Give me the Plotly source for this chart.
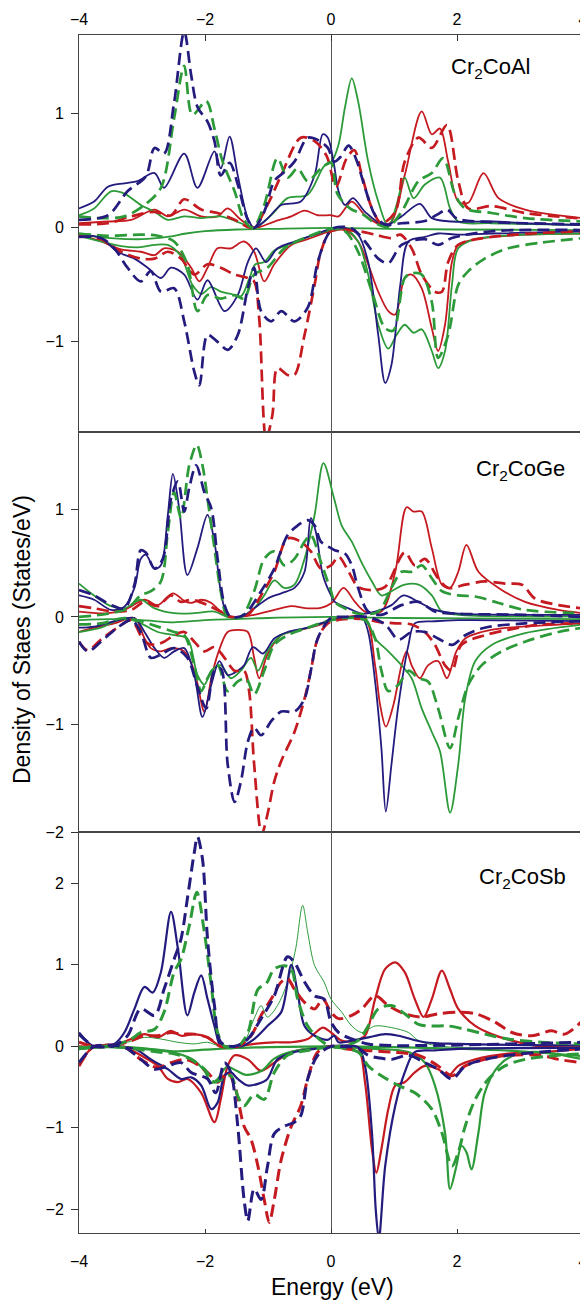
import plotly.graph_objects as go

RED = "#c41a20"
GREEN = "#2c9a38"
NAVY = "#231b7d"

X_TICKS = [-4, -2, 0, 2, 4]

# ---------------- Cr2CoAl ----------------
AL_NAVY_DASH_UP = [(-4.0,0.07),(-3.54,0.11),(-3.23,0.32),(-2.94,0.45),(-2.80,0.70),(-2.65,0.65),(-2.49,1.10),(-2.33,1.72),(-2.22,1.34),(-2.12,1.06),(-1.96,0.93),(-1.85,0.76),(-1.75,0.46),(-1.61,0.57),(-1.48,0.38),(-1.32,0.07),(-1.22,0.0),(-1.06,0.14),(-0.90,0.41),(-0.74,0.49),(-0.58,0.58),(-0.37,0.79),(-0.21,0.77),(-0.05,0.70),(0.05,0.58),(0.15,0.62),(0.28,0.72),(0.40,0.60),(0.54,0.35),(0.70,0.11),(0.86,0.03),(1.12,0.04),(1.49,0.06),(1.70,0.12),(1.84,0.16),(2.0,0.08),(2.55,0.05),(3.08,0.04),(4.0,0.03)]
AL_NAVY_SOLID_UP = [(-4.0,0.17),(-3.76,0.23),(-3.54,0.36),(-3.28,0.39),(-3.07,0.41),(-2.80,0.48),(-2.65,0.35),(-2.33,0.65),(-2.12,0.35),(-1.85,0.67),(-1.75,0.52),(-1.61,0.80),(-1.48,0.46),(-1.32,0.08),(-1.22,0.0),(-1.01,0.08),(-0.79,0.20),(-0.48,0.23),(-0.26,0.46),(-0.13,0.82),(-0.05,0.79),(0.04,0.58),(0.12,0.32),(0.22,0.20),(0.35,0.26),(0.54,0.14),(0.86,0.02),(1.12,0.10),(1.41,0.21),(1.60,0.085),(1.92,0.055),(2.55,0.055),(3.08,0.04),(4.0,0.025)]
AL_GREEN_DASH_UP = [(-4.0,0.10),(-3.65,0.085),(-3.28,0.10),(-2.96,0.20),(-2.70,0.35),(-2.49,0.96),(-2.33,1.42),(-2.20,0.99),(-1.98,1.11),(-1.85,0.87),(-1.72,0.58),(-1.53,0.32),(-1.38,0.07),(-1.24,0.0),(-1.06,0.20),(-0.85,0.61),(-0.69,0.44),(-0.53,0.52),(-0.37,0.41),(-0.16,0.52),(0.0,0.57),(0.10,0.30),(0.30,0.17),(0.50,0.12),(0.70,0.04),(0.91,0.01),(1.12,0.14),(1.39,0.41),(1.60,0.48),(1.78,0.61),(1.97,0.29),(2.13,0.17),(2.55,0.13),(3.08,0.085),(4.0,0.055)]
AL_GREEN_SOLID_UP = [(-4.0,0.11),(-3.76,0.17),(-3.49,0.32),(-3.28,0.30),(-3.02,0.20),(-2.80,0.14),(-2.59,0.07),(-2.33,0.10),(-2.06,0.085),(-1.75,0.10),(-1.43,0.04),(-1.22,0.0),(-0.95,0.11),(-0.69,0.26),(-0.37,0.29),(-0.11,0.54),(0.01,0.58),(0.12,0.73),(0.22,1.05),(0.33,1.31),(0.43,1.11),(0.59,0.58),(0.75,0.23),(0.91,0.01),(1.04,0.20),(1.17,0.44),(1.31,0.26),(1.49,0.38),(1.73,0.44),(1.89,0.17),(2.02,0.055),(2.55,0.04),(4.0,0.025)]
AL_RED_DASH_UP = [(-4.0,0.03),(-3.54,0.04),(-3.17,0.10),(-2.80,0.14),(-2.54,0.11),(-2.33,0.25),(-2.06,0.16),(-1.80,0.13),(-1.53,0.07),(-1.24,0.0),(-1.01,0.20),(-0.79,0.46),(-0.48,0.79),(-0.26,0.76),(-0.07,0.63),(0.08,0.36),(0.24,0.60),(0.37,0.68),(0.49,0.46),(0.65,0.17),(0.80,0.04),(1.02,0.14),(1.17,0.58),(1.39,0.79),(1.60,0.70),(1.84,0.90),(2.02,0.41),(2.18,0.17),(2.55,0.19),(3.08,0.13),(4.0,0.08)]
AL_RED_SOLID_UP = [(-4.0,0.04),(-3.54,0.055),(-3.17,0.07),(-2.80,0.16),(-2.59,0.10),(-2.33,0.16),(-2.06,0.10),(-1.80,0.10),(-1.64,0.17),(-1.43,0.07),(-1.22,0.0),(-0.90,0.055),(-0.63,0.10),(-0.42,0.15),(-0.21,0.11),(0.0,0.11),(0.12,0.10),(0.33,0.23),(0.54,0.11),(0.80,0.025),(0.96,0.055),(1.17,0.46),(1.44,1.02),(1.60,0.82),(1.73,0.87),(1.86,0.58),(2.02,0.23),(2.18,0.22),(2.42,0.48),(2.66,0.26),(3.08,0.16),(4.0,0.085)]
AL_NAVY_DASH_DN = [(-4.0,-0.08),(-3.65,-0.09),(-3.44,-0.18),(-3.23,-0.35),(-3.02,-0.47),(-2.86,-0.38),(-2.70,-0.56),(-2.49,-0.53),(-2.33,-0.82),(-2.17,-1.26),(-2.09,-1.38),(-1.96,-0.94),(-1.80,-1.00),(-1.64,-1.07),(-1.48,-0.94),(-1.32,-0.53),(-1.22,-0.35),(-1.11,-0.73),(-0.95,-0.82),(-0.79,-0.73),(-0.58,-0.82),(-0.37,-0.70),(-0.21,-0.30),(-0.05,-0.06),(0.06,0.0),(0.33,-0.005),(0.54,-0.12),(0.75,-0.27),(0.91,-0.31),(1.12,-0.15),(1.49,-0.10),(1.70,-0.15),(1.92,-0.09),(2.55,-0.03),(4.0,-0.02)]
AL_NAVY_SOLID_DN = [(-4.0,-0.06),(-3.65,-0.09),(-3.39,-0.21),(-3.12,-0.27),(-2.91,-0.35),(-2.70,-0.44),(-2.54,-0.35),(-2.33,-0.41),(-2.12,-0.63),(-1.96,-0.46),(-1.69,-0.73),(-1.48,-0.59),(-1.32,-0.30),(-1.19,-0.18),(-1.03,-0.30),(-0.85,-0.18),(-0.58,-0.12),(-0.26,-0.06),(0.0,-0.01),(0.22,0.0),(0.43,-0.06),(0.59,-0.30),(0.75,-0.94),(0.86,-1.36),(0.96,-1.20),(1.10,-0.50),(1.23,-0.12),(1.49,-0.08),(1.70,-0.05),(2.02,-0.06),(2.55,-0.05),(4.0,-0.03)]
AL_RED_SOLID_DN = [(-4.0,-0.06),(-3.65,-0.12),(-3.33,-0.19),(-3.02,-0.21),(-2.80,-0.24),(-2.65,-0.18),(-2.43,-0.21),(-2.22,-0.35),(-2.09,-0.47),(-1.96,-0.35),(-1.80,-0.18),(-1.59,-0.18),(-1.38,-0.12),(-1.22,-0.21),(-1.06,-0.47),(-0.90,-0.32),(-0.63,-0.15),(-0.37,-0.10),(0.0,-0.03),(0.22,-0.02),(0.43,-0.12),(0.59,-0.32),(0.75,-0.56),(0.91,-0.73),(1.02,-0.76),(1.17,-0.44),(1.28,-0.41),(1.44,-0.53),(1.60,-0.88),(1.70,-1.08),(1.81,-0.85),(1.92,-0.30),(2.02,-0.15),(2.29,-0.10),(3.08,-0.06),(4.0,-0.05)]
AL_RED_DASH_DN = [(-4.0,-0.06),(-3.65,-0.10),(-3.33,-0.21),(-3.02,-0.27),(-2.80,-0.27),(-2.59,-0.21),(-2.38,-0.27),(-2.17,-0.41),(-1.96,-0.32),(-1.75,-0.35),(-1.53,-0.41),(-1.32,-0.44),(-1.22,-0.47),(-1.14,-0.79),(-1.03,-1.85),(-0.93,-1.64),(-0.85,-1.23),(-0.69,-1.29),(-0.58,-1.29),(-0.42,-0.94),(-0.26,-0.50),(-0.16,-0.21),(0.0,-0.03),(0.43,-0.03),(0.70,-0.06),(0.96,-0.09),(1.10,-0.06),(1.28,-0.18),(1.44,-0.41),(1.65,-0.56),(1.76,-0.56),(1.86,-0.30),(2.02,-0.15),(2.55,-0.08),(4.0,-0.03)]
AL_GREEN_SOLID_DN = [(-4.0,-0.07),(-3.65,-0.12),(-3.33,-0.16),(-3.02,-0.17),(-2.80,-0.15),(-2.59,-0.15),(-2.38,-0.25),(-2.20,-0.50),(-2.06,-0.58),(-1.90,-0.52),(-1.75,-0.56),(-1.59,-0.58),(-1.43,-0.60),(-1.30,-0.45),(-1.20,-0.32),(-1.06,-0.30),(-0.90,-0.20),(-0.63,-0.14),(-0.37,-0.08),(0.0,-0.02),(0.22,-0.01),(0.43,-0.12),(0.59,-0.41),(0.75,-0.85),(0.91,-1.06),(1.04,-0.94),(1.17,-0.85),(1.31,-0.92),(1.44,-0.89),(1.60,-1.08),(1.70,-1.23),(1.81,-1.08),(1.92,-0.50),(2.02,-0.18),(2.29,-0.10),(3.08,-0.06),(4.0,-0.05)]
AL_GREEN_DASH_DN = [(-4.0,-0.05),(-3.54,-0.07),(-3.02,-0.06),(-2.75,-0.07),(-2.49,-0.12),(-2.28,-0.32),(-2.12,-0.73),(-1.96,-0.59),(-1.75,-0.62),(-1.53,-0.59),(-1.38,-0.62),(-1.22,-0.41),(-1.01,-0.35),(-0.74,-0.18),(-0.42,-0.09),(0.0,-0.01),(0.22,-0.03),(0.43,-0.21),(0.65,-0.56),(0.86,-0.88),(0.99,-0.90),(1.17,-0.44),(1.28,-0.40),(1.44,-0.41),(1.60,-0.65),(1.70,-1.14),(1.86,-0.94),(2.02,-0.50),(2.18,-0.38),(2.44,-0.27),(2.81,-0.18),(3.34,-0.13),(4.0,-0.09)]
AL_GREEN_FLAT = [(-4.0,-0.06),(-3.5,-0.09),(-3.0,-0.10),(-2.6,-0.08),(-2.3,-0.05),(-2.0,-0.03),(-1.5,-0.015),(-1.0,-0.01),(0.0,0.0),(1.0,-0.01),(2.0,-0.015),(4.0,-0.02)]

# ---------------- Cr2CoGe ----------------
GE_NAVY_SOLID_UP = [(-4.0,0.20),(-3.76,0.16),(-3.49,0.065),(-3.28,0.095),(-3.12,0.27),(-3.02,0.54),(-2.94,0.58),(-2.80,0.45),(-2.70,0.48),(-2.59,0.95),(-2.51,1.33),(-2.41,1.01),(-2.28,0.39),(-2.12,0.64),(-1.96,0.95),(-1.85,0.70),(-1.75,0.24),(-1.64,0.02),(-1.43,0.0),(-1.22,0.08),(-1.01,0.17),(-0.79,0.22),(-0.58,0.27),(-0.42,0.42),(-0.32,0.92),(-0.24,0.79),(-0.13,0.39),(0.0,0.20),(0.06,0.14),(0.28,0.08),(0.49,0.03),(0.70,0.05),(0.96,0.11),(1.15,0.20),(1.39,0.14),(1.65,0.065),(2.02,0.03),(3.08,0.02),(4.0,0.02)]
GE_NAVY_DASH_UP = [(-4.0,0.25),(-3.76,0.20),(-3.49,0.11),(-3.28,0.08),(-3.12,0.30),(-3.02,0.62),(-2.94,0.60),(-2.80,0.45),(-2.67,0.54),(-2.54,1.10),(-2.43,1.26),(-2.33,0.98),(-2.25,1.20),(-2.14,1.41),(-2.01,1.16),(-1.90,1.01),(-1.80,0.54),(-1.69,0.11),(-1.59,0.0),(-1.38,0.02),(-1.11,0.24),(-0.90,0.45),(-0.69,0.76),(-0.53,0.85),(-0.37,0.90),(-0.26,0.85),(-0.16,0.70),(0.0,0.64),(0.06,0.62),(0.22,0.59),(0.33,0.48),(0.43,0.27),(0.59,0.05),(0.80,0.02),(1.12,0.11),(1.39,0.14),(1.65,0.05),(2.02,0.03),(3.08,0.02),(4.0,0.0)]
GE_GREEN_DASH_UP = [(-4.0,0.0),(-3.54,0.03),(-3.23,0.08),(-3.02,0.20),(-2.86,0.24),(-2.70,0.33),(-2.59,0.79),(-2.49,1.16),(-2.38,0.92),(-2.25,1.41),(-2.13,1.60),(-2.04,1.41),(-1.96,1.10),(-1.85,0.64),(-1.75,0.24),(-1.64,0.0),(-1.43,0.0),(-1.22,0.24),(-1.06,0.54),(-0.90,0.61),(-0.74,0.48),(-0.58,0.54),(-0.42,0.70),(-0.32,0.76),(-0.16,0.51),(0.0,0.24),(0.06,0.14),(0.22,0.08),(0.43,0.03),(0.75,0.05),(0.96,0.27),(1.12,0.42),(1.28,0.42),(1.44,0.48),(1.60,0.36),(1.76,0.24),(2.02,0.20),(2.29,0.19),(2.66,0.13),(3.08,0.065),(4.0,0.035)]
GE_GREEN_SOLID_UP = [(-4.0,0.31),(-3.76,0.20),(-3.49,0.10),(-3.28,0.08),(-3.02,0.16),(-2.80,0.08),(-2.49,0.035),(-2.17,0.035),(-1.85,0.05),(-1.64,0.0),(-1.43,0.0),(-1.22,0.08),(-1.06,0.20),(-0.90,0.34),(-0.74,0.27),(-0.58,0.30),(-0.42,0.54),(-0.26,0.95),(-0.12,1.43),(0.05,1.10),(0.17,0.85),(0.33,0.70),(0.49,0.50),(0.65,0.33),(0.80,0.20),(0.96,0.24),(1.17,0.30),(1.39,0.30),(1.60,0.20),(1.76,0.05),(2.02,0.02),(4.0,0.005)]
GE_RED_DASH_UP = [(-4.0,0.10),(-3.76,0.08),(-3.44,0.05),(-3.17,0.065),(-2.96,0.14),(-2.75,0.10),(-2.54,0.20),(-2.38,0.14),(-2.22,0.16),(-1.96,0.11),(-1.75,0.05),(-1.59,0.0),(-1.32,0.02),(-1.11,0.20),(-0.90,0.42),(-0.69,0.73),(-0.48,0.70),(-0.32,0.61),(-0.16,0.45),(0.0,0.48),(0.12,0.56),(0.28,0.42),(0.43,0.28),(0.65,0.25),(0.86,0.28),(1.17,0.60),(1.33,0.48),(1.49,0.54),(1.70,0.36),(1.86,0.27),(2.13,0.30),(2.44,0.33),(2.76,0.31),(3.03,0.30),(3.24,0.17),(3.61,0.11),(4.0,0.08)]
GE_RED_SOLID_UP = [(-4.0,0.05),(-3.54,0.035),(-3.23,0.08),(-2.96,0.16),(-2.75,0.11),(-2.51,0.22),(-2.33,0.15),(-2.22,0.13),(-2.06,0.16),(-1.90,0.13),(-1.75,0.05),(-1.59,0.0),(-1.22,0.02),(-0.90,0.065),(-0.63,0.10),(-0.37,0.08),(-0.16,0.085),(0.01,0.13),(0.20,0.27),(0.38,0.14),(0.54,0.05),(0.80,0.05),(1.02,0.42),(1.20,1.02),(1.31,0.98),(1.44,0.98),(1.60,0.64),(1.76,0.30),(1.89,0.27),(2.02,0.42),(2.15,0.67),(2.34,0.42),(2.66,0.27),(3.08,0.14),(3.61,0.065),(4.0,0.035)]
GE_NAVY_DASH_DN = [(-4.0,-0.23),(-3.86,-0.32),(-3.65,-0.23),(-3.39,-0.10),(-3.17,-0.03),(-3.02,-0.14),(-2.86,-0.38),(-2.70,-0.35),(-2.49,-0.29),(-2.28,-0.38),(-2.12,-0.65),(-1.98,-0.85),(-1.85,-0.50),(-1.75,-0.48),(-1.64,-1.37),(-1.53,-1.72),(-1.43,-1.53),(-1.32,-1.16),(-1.22,-1.03),(-1.11,-1.10),(-0.95,-0.97),(-0.79,-0.88),(-0.58,-0.88),(-0.42,-0.76),(-0.32,-0.50),(-0.21,-0.20),(0.0,-0.01),(0.22,0.0),(0.59,0.0),(0.86,-0.07),(1.07,-0.21),(1.28,-0.14),(1.49,-0.14),(1.70,-0.20),(1.92,-0.26),(2.13,-0.17),(2.44,-0.10),(3.08,-0.06),(4.0,-0.04)]
GE_NAVY_SOLID_DN = [(-4.0,-0.10),(-3.76,-0.09),(-3.44,-0.04),(-3.12,-0.01),(-2.96,-0.14),(-2.80,-0.29),(-2.65,-0.38),(-2.49,-0.32),(-2.33,-0.29),(-2.17,-0.54),(-2.04,-0.93),(-1.90,-0.63),(-1.77,-0.41),(-1.64,-0.54),(-1.48,-0.50),(-1.38,-0.45),(-1.24,-0.28),(-1.08,-0.34),(-0.90,-0.20),(-0.69,-0.14),(-0.37,-0.10),(-0.16,-0.06),(0.0,-0.03),(0.22,-0.01),(0.49,0.0),(0.59,-0.14),(0.70,-0.60),(0.80,-1.22),(0.87,-1.81),(0.96,-1.37),(1.07,-0.82),(1.23,-0.26),(1.33,-0.06),(1.65,-0.04),(2.02,-0.03),(4.0,-0.04)]
GE_RED_SOLID_DN = [(-4.0,-0.14),(-3.76,-0.10),(-3.44,-0.06),(-3.12,-0.01),(-2.96,-0.20),(-2.86,-0.29),(-2.70,-0.32),(-2.54,-0.29),(-2.33,-0.32),(-2.17,-0.50),(-2.01,-0.88),(-1.90,-0.57),(-1.80,-0.35),(-1.64,-0.14),(-1.48,-0.12),(-1.32,-0.14),(-1.22,-0.38),(-1.14,-0.57),(-1.01,-0.35),(-0.79,-0.17),(-0.48,-0.12),(-0.16,-0.07),(0.0,-0.03),(0.22,0.0),(0.54,-0.01),(0.70,-0.45),(0.78,-0.82),(0.87,-1.02),(0.99,-0.82),(1.12,-0.45),(1.20,-0.32),(1.28,-0.45),(1.41,-0.57),(1.54,-0.45),(1.70,-0.41),(1.84,-0.57),(1.99,-0.32),(2.13,-0.20),(2.39,-0.14),(2.81,-0.10),(4.0,-0.06)]
GE_RED_DASH_DN = [(-4.0,-0.23),(-3.86,-0.31),(-3.65,-0.21),(-3.39,-0.10),(-3.17,-0.03),(-2.96,-0.23),(-2.80,-0.26),(-2.65,-0.23),(-2.49,-0.17),(-2.33,-0.14),(-2.17,-0.23),(-2.01,-0.32),(-1.85,-0.28),(-1.69,-0.38),(-1.53,-0.50),(-1.38,-0.50),(-1.30,-0.69),(-1.22,-1.37),(-1.10,-2.02),(-1.01,-1.84),(-0.90,-1.53),(-0.79,-1.34),(-0.58,-1.07),(-0.42,-0.76),(-0.32,-0.50),(-0.21,-0.20),(-0.05,-0.06),(0.22,-0.02),(0.54,-0.02),(0.80,-0.05),(1.07,-0.06),(1.28,-0.07),(1.49,-0.14),(1.65,-0.26),(1.81,-0.45),(1.92,-0.50),(2.07,-0.26),(2.44,-0.17),(2.81,-0.12),(3.34,-0.07),(4.0,-0.06)]
GE_GREEN_DASH_DN = [(-4.0,-0.07),(-3.65,-0.06),(-3.28,-0.01),(-3.02,-0.04),(-2.75,-0.09),(-2.49,-0.14),(-2.33,-0.17),(-2.17,-0.45),(-2.06,-0.69),(-1.96,-0.57),(-1.80,-0.45),(-1.64,-0.69),(-1.48,-0.60),(-1.35,-0.57),(-1.22,-0.72),(-1.06,-0.50),(-0.90,-0.26),(-0.69,-0.17),(-0.37,-0.10),(0.0,-0.03),(0.22,-0.01),(0.54,-0.03),(0.70,-0.20),(0.80,-0.50),(0.91,-0.69),(1.07,-0.63),(1.23,-0.50),(1.39,-0.57),(1.54,-0.60),(1.70,-0.85),(1.89,-1.22),(2.02,-0.94),(2.18,-0.63),(2.39,-0.45),(2.71,-0.32),(3.08,-0.23),(3.61,-0.14),(4.0,-0.10)]
GE_GREEN_SOLID_DN = [(-4.0,-0.14),(-3.65,-0.10),(-3.28,-0.01),(-3.02,-0.06),(-2.75,-0.14),(-2.49,-0.17),(-2.28,-0.20),(-2.12,-0.54),(-2.01,-0.63),(-1.90,-0.50),(-1.75,-0.45),(-1.59,-0.57),(-1.43,-0.50),(-1.27,-0.38),(-1.16,-0.50),(-1.01,-0.32),(-0.79,-0.17),(-0.37,-0.10),(0.0,-0.03),(0.22,-0.01),(0.54,-0.01),(0.70,-0.20),(0.91,-0.32),(1.12,-0.45),(1.28,-0.57),(1.44,-0.85),(1.60,-1.07),(1.73,-1.25),(1.89,-1.82),(2.02,-1.37),(2.13,-0.76),(2.29,-0.41),(2.55,-0.26),(3.08,-0.15),(4.0,-0.07)]
GE_GREEN_FLAT = [(-4.0,-0.03),(-3.5,-0.02),(-3.0,-0.03),(-2.5,-0.05),(-2.0,-0.03),(-1.0,-0.01),(0.0,0.0),(1.0,-0.01),(4.0,-0.02)]

# ---------------- Cr2CoSb ----------------
SB_NAVY_SOLID_UP = [(-4.0,0.17),(-3.86,0.05),(-3.76,0.0),(-3.44,0.03),(-3.28,0.17),(-3.12,0.46),(-2.96,0.73),(-2.83,0.66),(-2.70,0.91),(-2.54,1.65),(-2.43,1.20),(-2.28,0.38),(-2.17,0.66),(-2.06,0.87),(-1.96,0.58),(-1.85,0.25),(-1.75,0.0),(-1.64,0.0),(-1.43,0.0),(-1.22,0.09),(-1.01,0.25),(-0.79,0.42),(-0.63,1.0),(-0.53,0.66),(-0.42,0.25),(-0.26,0.13),(-0.05,0.08),(0.05,0.13),(0.12,0.05),(0.33,0.07),(0.59,0.11),(0.86,0.15),(1.07,0.13),(1.49,0.05),(2.02,0.03),(4.0,0.01)]
SB_NAVY_DASH_UP = [(-4.0,0.15),(-3.86,0.05),(-3.76,0.0),(-3.44,0.01),(-3.23,0.13),(-3.02,0.46),(-2.80,0.38),(-2.65,0.70),(-2.49,1.07),(-2.38,1.32),(-2.28,1.81),(-2.17,2.38),(-2.12,2.57),(-2.04,2.30),(-1.96,1.32),(-1.85,0.50),(-1.75,0.05),(-1.53,0.0),(-1.32,0.09),(-1.11,0.34),(-0.90,0.62),(-0.69,1.10),(-0.58,1.03),(-0.42,0.79),(-0.26,0.62),(-0.11,0.58),(0.0,0.30),(0.12,0.17),(0.33,0.09),(0.59,0.03),(0.96,0.01),(4.0,0.05)]
SB_GREEN_DASH_UP = [(-4.0,-0.03),(-3.76,0.0),(-3.44,0.01),(-3.17,0.09),(-3.02,0.17),(-2.80,0.21),(-2.65,0.42),(-2.49,0.91),(-2.38,1.07),(-2.25,1.48),(-2.13,1.89),(-2.01,1.40),(-1.90,0.75),(-1.80,0.17),(-1.69,0.0),(-1.48,0.0),(-1.32,0.17),(-1.16,0.70),(-1.03,0.77),(-0.90,0.95),(-0.74,0.99),(-0.63,0.95),(-0.53,0.58),(-0.37,0.25),(-0.16,0.07),(0.0,0.0),(0.12,0.0),(0.43,0.07),(0.59,0.25),(0.75,0.46),(0.96,0.50),(1.17,0.40),(1.39,0.27),(1.60,0.25),(1.86,0.25),(2.13,0.21),(2.44,0.15),(2.81,0.09),(3.34,0.05),(4.0,0.03)]
SB_GREEN_THIN_UP = [(-4.0,0.0),(-3.54,0.0),(-3.23,0.05),(-2.96,0.11),(-2.70,0.09),(-2.43,0.05),(-2.17,0.03),(-1.96,0.05),(-1.75,0.0),(-1.43,0.0),(-1.22,0.34),(-1.11,0.50),(-1.01,0.36),(-0.85,0.50),(-0.69,0.79),(-0.56,1.20),(-0.45,1.73),(-0.37,1.40),(-0.26,0.99),(-0.11,0.79),(0.0,0.58),(0.17,0.42),(0.33,0.25),(0.49,0.17),(0.70,0.25),(0.96,0.23),(1.23,0.17),(1.39,0.07),(1.76,0.0),(4.0,-0.01)]
SB_RED_DASH_UP = [(-4.0,0.05),(-3.76,0.0),(-3.44,0.01),(-3.17,0.07),(-2.96,0.13),(-2.75,0.13),(-2.54,0.17),(-2.38,0.15),(-2.17,0.15),(-1.96,0.11),(-1.75,0.0),(-1.48,0.0),(-1.27,0.13),(-1.11,0.38),(-0.95,0.58),(-0.79,0.79),(-0.69,0.83),(-0.58,0.70),(-0.42,0.54),(-0.26,0.46),(-0.13,0.58),(0.0,0.42),(0.12,0.34),(0.33,0.38),(0.49,0.46),(0.70,0.62),(0.91,0.50),(1.17,0.40),(1.44,0.36),(1.70,0.40),(2.02,0.42),(2.29,0.40),(2.60,0.30),(2.87,0.17),(3.19,0.13),(3.50,0.19),(3.71,0.15),(4.0,0.32)]
SB_RED_SOLID_UP = [(-4.0,0.0),(-3.76,0.0),(-3.39,0.03),(-3.17,0.09),(-2.96,0.15),(-2.75,0.11),(-2.54,0.19),(-2.38,0.13),(-2.17,0.15),(-1.96,0.11),(-1.75,0.0),(-1.48,0.0),(-1.22,0.03),(-0.90,0.05),(-0.63,0.05),(-0.37,0.09),(-0.13,0.23),(0.0,0.17),(0.17,0.07),(0.38,0.07),(0.54,0.13),(0.70,0.58),(0.86,0.95),(1.02,1.03),(1.17,0.91),(1.33,0.58),(1.47,0.36),(1.60,0.58),(1.76,0.93),(1.89,0.70),(2.02,0.46),(2.29,0.25),(2.55,0.15),(2.87,0.07),(3.34,0.0),(4.0,-0.01)]
SB_NAVY_DASH_DN = [(-4.0,-0.20),(-3.86,-0.07),(-3.76,0.0),(-3.28,-0.01),(-3.02,-0.16),(-2.80,-0.28),(-2.59,-0.24),(-2.38,-0.20),(-2.22,-0.32),(-1.96,-0.40),(-1.83,-0.57),(-1.69,-0.20),(-1.59,-0.32),(-1.48,-0.98),(-1.38,-1.88),(-1.32,-2.14),(-1.22,-1.75),(-1.11,-1.88),(-1.01,-1.48),(-0.90,-1.07),(-0.74,-0.98),(-0.58,-0.93),(-0.48,-0.85),(-0.37,-0.40),(-0.21,-0.11),(0.0,0.0),(0.12,0.0),(0.43,-0.02),(0.59,-0.11),(0.75,-0.14),(0.96,-0.16),(1.23,-0.11),(1.49,-0.20),(1.70,-0.28),(1.92,-0.40),(2.13,-0.24),(2.44,-0.16),(2.81,-0.11),(3.34,-0.07),(4.0,-0.03)]
SB_NAVY_SOLID_DN = [(-4.0,-0.03),(-3.54,0.0),(-3.12,-0.03),(-2.86,-0.16),(-2.59,-0.28),(-2.38,-0.40),(-2.22,-0.38),(-2.06,-0.48),(-1.90,-0.77),(-1.80,-0.69),(-1.69,-0.36),(-1.59,-0.32),(-1.48,-0.40),(-1.32,-0.48),(-1.16,-0.46),(-1.01,-0.40),(-0.85,-0.16),(-0.58,-0.07),(-0.26,-0.03),(0.0,0.0),(0.43,-0.01),(0.54,-0.24),(0.65,-1.06),(0.71,-2.0),(0.76,-2.36),(0.86,-1.47),(1.02,-0.73),(1.17,-0.32),(1.33,-0.07),(1.65,-0.05),(2.02,-0.03),(4.0,-0.02)]
SB_RED_SOLID_DN = [(-4.0,-0.24),(-3.86,-0.07),(-3.76,0.0),(-3.28,-0.01),(-3.02,-0.11),(-2.75,-0.24),(-2.59,-0.40),(-2.43,-0.44),(-2.28,-0.40),(-2.06,-0.57),(-1.85,-0.93),(-1.75,-0.65),(-1.64,-0.24),(-1.53,-0.11),(-1.32,-0.16),(-1.11,-0.30),(-0.90,-0.20),(-0.63,-0.07),(-0.26,-0.02),(0.0,0.0),(0.22,-0.01),(0.43,-0.02),(0.54,-0.44),(0.65,-1.26),(0.72,-1.55),(0.80,-1.26),(0.91,-0.77),(1.02,-0.48),(1.17,-0.44),(1.33,-0.32),(1.49,-0.24),(1.70,-0.28),(1.86,-0.36),(2.02,-0.24),(2.29,-0.16),(2.81,-0.09),(3.34,-0.07),(4.0,-0.03)]
SB_RED_DASH_DN = [(-4.0,-0.24),(-3.86,-0.07),(-3.76,0.0),(-3.28,-0.01),(-3.02,-0.16),(-2.75,-0.26),(-2.54,-0.20),(-2.33,-0.16),(-2.17,-0.20),(-1.96,-0.32),(-1.80,-0.44),(-1.64,-0.32),(-1.53,-0.48),(-1.38,-0.98),(-1.27,-1.14),(-1.16,-1.47),(-1.06,-1.88),(-0.98,-2.16),(-0.90,-1.88),(-0.79,-1.39),(-0.63,-0.98),(-0.48,-0.73),(-0.37,-0.40),(-0.21,-0.07),(0.0,0.0),(0.22,-0.03),(0.54,-0.05),(0.96,-0.07),(1.39,-0.11),(1.70,-0.24),(1.92,-0.36),(2.13,-0.24),(2.44,-0.16),(2.81,-0.11),(3.34,-0.11),(3.61,-0.16),(4.0,-0.20)]
SB_GREEN_DASH_DN = [(-4.0,-0.03),(-3.54,0.0),(-3.12,-0.03),(-2.75,-0.07),(-2.49,-0.09),(-2.22,-0.16),(-2.01,-0.28),(-1.85,-0.44),(-1.72,-0.40),(-1.59,-0.36),(-1.48,-0.61),(-1.38,-0.73),(-1.22,-0.59),(-1.06,-0.65),(-0.90,-0.32),(-0.69,-0.11),(-0.37,-0.05),(0.0,-0.01),(0.43,-0.07),(0.59,-0.24),(0.80,-0.36),(1.07,-0.48),(1.33,-0.57),(1.60,-0.77),(1.76,-1.06),(1.92,-1.47),(2.02,-1.30),(2.13,-0.98),(2.29,-0.65),(2.50,-0.40),(2.76,-0.24),(3.08,-0.16),(3.61,-0.11),(4.0,-0.09)]
SB_GREEN_SOLID_DN = [(-4.0,-0.03),(-3.54,-0.01),(-3.02,-0.03),(-2.54,-0.07),(-2.22,-0.15),(-2.01,-0.30),(-1.90,-0.45),(-1.80,-0.40),(-1.65,-0.25),(-1.50,-0.30),(-1.35,-0.35),(-1.10,-0.30),(-0.90,-0.15),(-0.60,-0.06),(0.0,-0.01),(0.70,-0.03),(1.23,-0.07),(1.49,-0.20),(1.65,-0.48),(1.81,-1.06),(1.89,-1.75),(1.99,-1.47),(2.07,-1.22),(2.15,-1.30),(2.23,-1.51),(2.34,-1.06),(2.44,-0.57),(2.66,-0.24),(2.97,-0.09),(3.34,-0.07),(4.0,-0.16)]
SB_GREEN_FLAT = [(-4.0,-0.02),(-3.5,0.0),(-3.0,-0.02),(-2.5,-0.06),(-2.0,-0.04),(-1.5,-0.02),(-1.0,-0.01),(0.0,0.0),(1.0,-0.01),(2.0,-0.03),(3.0,-0.06),(4.0,-0.12)]

PANEL_LABELS = ["Cr<sub>2</sub>CoAl", "Cr<sub>2</sub>CoGe", "Cr<sub>2</sub>CoSb"]
Y_RANGES = [[-1.79, 1.69], [-2.0, 1.72], [-2.29, 2.63]]
Y_TICKS = [[-1, 0, 1], [-2, -1, 0, 1], [-2, -1, 0, 1, 2]]

PANELS = [
    [(AL_RED_SOLID_UP, RED, "s"), (AL_RED_SOLID_DN, RED, "s"), (AL_GREEN_FLAT, GREEN, "s"),
     (AL_GREEN_SOLID_UP, GREEN, "s"), (AL_GREEN_SOLID_DN, GREEN, "s"),
     (AL_NAVY_SOLID_UP, NAVY, "s"), (AL_NAVY_SOLID_DN, NAVY, "s"),
     (AL_RED_DASH_UP, RED, "d"), (AL_RED_DASH_DN, RED, "d"),
     (AL_GREEN_DASH_UP, GREEN, "d"), (AL_GREEN_DASH_DN, GREEN, "d"),
     (AL_NAVY_DASH_UP, NAVY, "d"), (AL_NAVY_DASH_DN, NAVY, "d")],
    [(GE_RED_SOLID_UP, RED, "s"), (GE_RED_SOLID_DN, RED, "s"), (GE_GREEN_FLAT, GREEN, "s"),
     (GE_GREEN_SOLID_UP, GREEN, "s"), (GE_GREEN_SOLID_DN, GREEN, "s"),
     (GE_NAVY_SOLID_UP, NAVY, "s"), (GE_NAVY_SOLID_DN, NAVY, "s"),
     (GE_RED_DASH_UP, RED, "d"), (GE_RED_DASH_DN, RED, "d"),
     (GE_GREEN_DASH_UP, GREEN, "d"), (GE_GREEN_DASH_DN, GREEN, "d"),
     (GE_NAVY_DASH_UP, NAVY, "d"), (GE_NAVY_DASH_DN, NAVY, "d")],
    [(SB_RED_SOLID_UP, RED, "s"), (SB_RED_SOLID_DN, RED, "s"), (SB_GREEN_FLAT, GREEN, "s"),
     (SB_GREEN_THIN_UP, GREEN, "t"), (SB_GREEN_SOLID_DN, GREEN, "s"),
     (SB_NAVY_SOLID_UP, NAVY, "s"), (SB_NAVY_SOLID_DN, NAVY, "s"),
     (SB_RED_DASH_UP, RED, "d"), (SB_RED_DASH_DN, RED, "d"),
     (SB_GREEN_DASH_UP, GREEN, "d"), (SB_GREEN_DASH_DN, GREEN, "d"),
     (SB_NAVY_DASH_UP, NAVY, "d"), (SB_NAVY_DASH_DN, NAVY, "d")],
]

FONT = "Liberation Sans, Arial, sans-serif"
fig = go.Figure()

# The page body has an 8px margin, so the figure is drawn 8px right/down of the window
# corner; sizes are reduced by that so the plot area lands at screen x 79..583, y 35..1233.
OFF = 8
FIG_W = 588 - OFF
FIG_H = 1303 - OFF
H = 1198.0
bounds = [(35, 432), (432, 832), (832, 1233)]
domains = [[(1233 - b) / H, (1233 - t) / H] for t, b in bounds]

for p, curves in enumerate(PANELS):
    xa = "x" if p == 0 else "x%d" % (p + 1)
    ya = "y" if p == 0 else "y%d" % (p + 1)
    for pts, col, sty in curves:
        xs = [a for a, b in pts]
        ys = [b for a, b in pts]
        if sty == "d":
            line = dict(color=col, width=3.0 if p == 2 else 2.7, dash="12px,6px", shape="spline", smoothing=0.9)
        elif sty == "t":
            line = dict(color=col, width=1.0, shape="spline", smoothing=0.9)
        else:
            line = dict(color=col, width=2.2 if p == 2 else 1.8, shape="spline", smoothing=0.9)
        fig.add_trace(go.Scatter(x=xs, y=ys, mode="lines", line=line, xaxis=xa, yaxis=ya,
                                 showlegend=False, hoverinfo="skip"))

layout = dict(
    width=FIG_W, height=FIG_H,
    margin=dict(l=79 - OFF, r=FIG_W - (583 - OFF), t=35 - OFF, b=FIG_H - (1233 - OFF), autoexpand=False),
    paper_bgcolor="white", plot_bgcolor="white",
    font=dict(family=FONT, size=16, color="black"),
    showlegend=False,
)
for p in range(3):
    xk = "xaxis" if p == 0 else "xaxis%d" % (p + 1)
    yk = "yaxis" if p == 0 else "yaxis%d" % (p + 1)
    ya = "y" if p == 0 else "y%d" % (p + 1)
    xa = "x" if p == 0 else "x%d" % (p + 1)
    xaxis = dict(range=[-4, 4], domain=[0, 1], anchor=ya, showgrid=False, automargin=False,
                 zeroline=True, zerolinecolor="#555555", zerolinewidth=1,
                 showline=True, mirror=True, linecolor="#444444", linewidth=1,
                 tickvals=X_TICKS, tickfont=dict(size=16, family=FONT, color="black"))
    if p == 0:
        xaxis.update(side="top", ticks="inside", ticklen=6, tickcolor="#333333",
                     showticklabels=True, ticklabelstandoff=3)
    elif p == 1:
        xaxis.update(ticks="", showticklabels=False, matches="x")
    else:
        xaxis.update(ticks="inside", ticklen=4, tickcolor="#333333", showticklabels=True,
                     matches="x", ticklabelstandoff=14)
    layout[xk] = xaxis
    layout[yk] = dict(range=Y_RANGES[p], domain=domains[p], anchor=xa, showgrid=False, zeroline=False,
                      showline=True, mirror=True, linecolor="#444444", linewidth=1, automargin=False,
                      tickvals=Y_TICKS[p], ticks="outside", ticklen=7, tickcolor="#333333",
                      ticklabelstandoff=4,
                      tickfont=dict(size=16, family=FONT, color="black"))

label_pos = [(490, 68), (520, 470), (522, 878)]
ann = []
for p, (px, py) in enumerate(label_pos):
    ann.append(dict(text=PANEL_LABELS[p], xref="paper", yref="paper",
                    x=(px - 79) / 504.0, y=(1233 - py) / H, xanchor="center", yanchor="middle",
                    showarrow=False, font=dict(size=22, family=FONT, color="black")))
ann.append(dict(text="Energy (eV)", xref="paper", yref="paper", x=(332 - 79) / 504.0,
                y=(1233 - 1287) / H, xanchor="center", yanchor="middle", showarrow=False,
                font=dict(size=23, family=FONT, color="black")))
ann.append(dict(text="Density of Staes (States/eV)", xref="paper", yref="paper",
                x=(22 - 79) / 504.0, y=(1233 - 640) / H, xanchor="center", yanchor="middle",
                textangle=-90, showarrow=False, font=dict(size=23, family=FONT, color="black")))
layout["annotations"] = ann

fig.update_layout(**layout)
fig.write_html("out.html")
